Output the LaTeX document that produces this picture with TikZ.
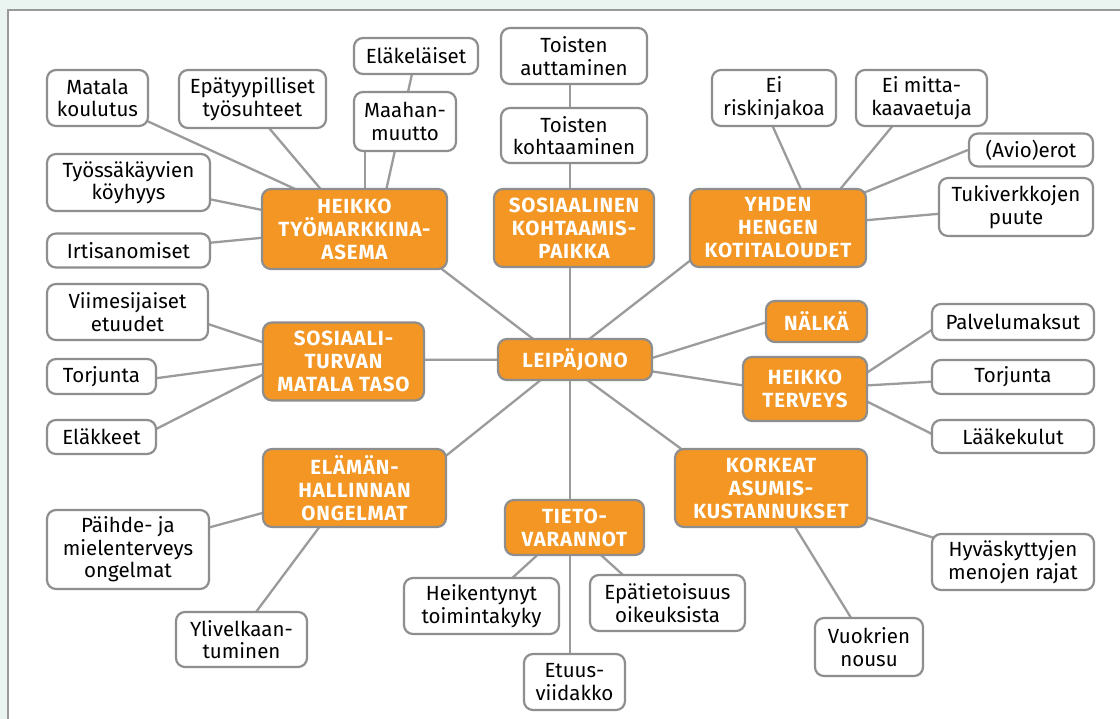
\documentclass[tikz,border=0pt]{standalone}
\usepackage{fontspec}
\setmainfont{Fira Sans}
\newfontfamily\hubfont[LetterSpace=4]{Fira Sans}
\pgfdeclarelayer{back}
\pgfdeclarelayer{bg}
\pgfsetlayers{back,bg,main}
\definecolor{mint}{RGB}{234,245,241}
\definecolor{orng}{RGB}{243,150,35}
\definecolor{bordergray}{RGB}{142,142,142}
\definecolor{linegray}{RGB}{155,155,155}
\tikzset{
  sub/.style={draw=bordergray, line width=2.2pt, fill=white, rounded corners=9pt, inner sep=0pt, align=center, text=black, font=\fontsize{20.5}{22.5}\selectfont},
  hub/.style={sub, fill=orng, text=white, font=\hubfont\bfseries\fontsize{20.5}{23}\selectfont},
  link/.style={draw=linegray, line width=2.3pt},
  panel/.style={draw=bordergray!90, line width=2pt, fill=white},
}
\begin{document}
\begin{tikzpicture}[x=1pt,y=-1pt]
\useasboundingbox (0,0) rectangle (1120,719);
\clip (0,0) rectangle (1120,719);
\begin{pgfonlayer}{back}
  \fill[mint] (0,0) rectangle (1120,719);
  \draw[panel] (8,10) rectangle (1140,740);
\end{pgfonlayer}

% hubs
\node[hub, minimum width=185pt, minimum height=80pt] (hta) at (354.5,229) {HEIKKO\\TYÖMARKKINA-\\ASEMA};
\node[hub, minimum width=160pt, minimum height=78pt] (sos) at (574,228) {SOSIAALINEN\\KOHTAAMIS-\\PAIKKA};
\node[hub, minimum width=176pt, minimum height=78pt] (yhden) at (778,228) {YHDEN\\HENGEN\\KOTITALOUDET};
\node[hub, minimum width=161pt, minimum height=78pt] (sost) at (343.5,361.5) {SOSIAALI-\\TURVAN\\MATALA TASO};
\node[hub, minimum width=154pt, minimum height=41pt] (leipa) at (575,359.5) {LEIPÄJONO};
\node[hub, minimum width=101pt, minimum height=41pt] (nalka) at (816.5,321.5) {NÄLKÄ};
\node[hub, minimum width=124pt, minimum height=64pt] (terveys) at (805,389) {HEIKKO\\TERVEYS};
\node[hub, minimum width=183pt, minimum height=78pt] (elaman) at (354.5,488) {ELÄMÄN-\\HALLINNAN\\ONGELMAT};
\node[hub, minimum width=192pt, minimum height=78pt] (korkeat) at (771,488) {KORKEAT\\ASUMIS-\\KUSTANNUKSET};
\node[hub, minimum width=139pt, minimum height=55pt] (tieto) at (574.5,527.5) {TIETO-\\VARANNOT};

% leaves
\node[sub, minimum width=101pt, minimum height=56pt] (matala) at (97.5,98) {Matala\\koulutus};
\node[sub, minimum width=147pt, minimum height=58pt] (epatyyp) at (252.5,99) {Epätyypilliset\\työsuhteet};
\node[sub, minimum width=124pt, minimum height=36pt] (elakel) at (416,56) {Eläkeläiset};
\node[sub, minimum width=102pt, minimum height=59pt] (maahan) at (405,121.5) {Maahan-\\muutto};
\node[sub, minimum width=163pt, minimum height=57pt] (tyossa) at (128.5,182.5) {Työssäkäyvien\\köyhyys};
\node[sub, minimum width=163pt, minimum height=34pt] (irtis) at (128.5,250.5) {Irtisanomiset};
\node[sub, minimum width=146pt, minimum height=56pt] (auttam) at (574,56) {Toisten\\auttaminen};
\node[sub, minimum width=146pt, minimum height=55pt] (kohtaam) at (574,135.5) {Toisten\\kohtaaminen};
\node[sub, minimum width=124pt, minimum height=56pt] (eirisk) at (774,98) {Ei\\riskinjakoa};
\node[sub, minimum width=131pt, minimum height=56pt] (eimitta) at (921.5,98) {Ei mitta-\\kaavaetuja};
\node[sub, minimum width=124pt, minimum height=33pt] (avio) at (1031,150) {(Avio)erot};
\node[sub, minimum width=154pt, minimum height=58pt] (tuki) at (1016,207) {Tukiverkkojen\\puute};
\node[sub, minimum width=161pt, minimum height=56pt] (viim) at (127.5,312) {Viimesijaiset\\etuudet};
\node[sub, minimum width=109pt, minimum height=35pt] (torjl) at (101.5,376.5) {Torjunta};
\node[sub, minimum width=109pt, minimum height=34pt] (elakk) at (101.5,437) {Eläkkeet};
\node[sub, minimum width=162pt, minimum height=79pt] (paihde) at (128,549.5) {Päihde- ja\\mielenterveys\\ongelmat};
\node[sub, minimum width=131pt, minimum height=55pt] (yliv) at (241.5,639.5) {Ylivelkaan-\\tuminen};
\node[sub, minimum width=155pt, minimum height=56pt] (heikent) at (481.5,606) {Heikentynyt\\toimintakyky};
\node[sub, minimum width=155pt, minimum height=56pt] (epatiet) at (667.5,603) {Epätietoisuus\\oikeuksista};
\node[sub, minimum width=101pt, minimum height=56pt] (etuus) at (574.5,682) {Etuus-\\viidakko};
\node[sub, minimum width=162pt, minimum height=36pt] (palv) at (1013,322) {Palvelumaksut};
\node[sub, minimum width=162pt, minimum height=34pt] (torjr) at (1013,377) {Torjunta};
\node[sub, minimum width=162pt, minimum height=33pt] (laake) at (1013,436.5) {Lääkekulut};
\node[sub, minimum width=162pt, minimum height=56pt] (hyv) at (1013,562) {Hyväskyttyjen\\menojen rajat};
\node[sub, minimum width=108pt, minimum height=58pt] (vuokr) at (869,647) {Vuokrien\\nousu};

\begin{pgfonlayer}{bg}
% HEIKKO TYÖMARKKINA-ASEMA
\draw[link] ([shift={(12.5,6)}]matala.center) -- ([shift={(-24.5,-24)}]hta.center);
\draw[link] ([shift={(-8,0)}]epatyyp.center) -- (hta.center);
\draw[link] (elakel.center) -- ([shift={(23,0)}]hta.center);
\draw[link] ([shift={(-40,0)}]maahan.center) -- ([shift={(10.5,-7.5)}]hta.center);
\draw[link] (tyossa.center) -- (hta.center);
\draw[link] (irtis.center) -- (hta.center);
\draw[link] ([shift={(35,0)}]hta.center) -- ([shift={(-15,0)}]leipa.center);
% SOSIAALINEN KOHTAAMISPAIKKA
\draw[link] ([shift={(-4,0)}]auttam.center) -- ([shift={(-4,0)}]kohtaam.center);
\draw[link] ([shift={(-4,0)}]kohtaam.center) -- ([shift={(-4,0)}]sos.center);
\draw[link] ([shift={(-4,0)}]sos.center) -- ([shift={(-5,0)}]leipa.center);
% YHDEN HENGEN KOTITALOUDET
\draw[link] ([shift={(-14,0)}]eirisk.center) -- ([shift={(40.4,0)}]yhden.center);
\draw[link] ([shift={(-5.8,0)}]eimitta.center) -- ([shift={(30,0)}]yhden.center);
\draw[link] (yhden.center) -- (avio.west);
\draw[link] (yhden.center) -- (tuki.center);
\draw[link] ([shift={(-46,0)}]yhden.center) -- ([shift={(-12,0)}]leipa.center);
% SOSIAALITURVAN MATALA TASO
\draw[link] ([shift={(0,-14.8)}]viim.center) -- ([shift={(0,7.7)}]sost.center);
\draw[link] ([shift={(0,9.1)}]torjl.center) -- ([shift={(0,-8.5)}]sost.center);
\draw[link] ([shift={(18.5,10.4)}]elakk.center) -- ([shift={(-43.5,-5.8)}]sost.center);
\draw[link] ([shift={(0,-1.5)}]sost.center) -- (leipa.center);
% NALKA, TERVEYS
\draw[link] ([shift={(65,2.25)}]leipa.center) -- ([shift={(-16.5,-9.75)}]nalka.center);
\draw[link] (leipa.center) -- ([shift={(0,6)}]terveys.center);
\draw[link] ([shift={(45,-5.1)}]terveys.center) -- ([shift={(-63,-4.2)}]palv.center);
\draw[link] (terveys.center) -- (torjr.center);
\draw[link] ([shift={(45,4)}]terveys.center) -- ([shift={(-63,6.5)}]laake.center);
% KORKEAT
\draw[link] ([shift={(0,11.5)}]leipa.center) -- ([shift={(0,26.7)}]korkeat.center);
\draw[link] (korkeat.center) -- (hyv.center);
\draw[link] (korkeat.center) -- (vuokr.center);
% ELAMAN
\draw[link] ([shift={(-15,5.1)}]leipa.center) -- ([shift={(65.5,-11.4)}]elaman.center);
\draw[link] (elaman.center) -- (paihde.center);
\draw[link] ([shift={(-6,0)}]elaman.center) -- ([shift={(-6,0)}]yliv.center);
% TIETO
\draw[link] ([shift={(-5,0)}]leipa.center) -- ([shift={(-4.5,0)}]tieto.center);
\draw[link] ([shift={(-4.5,0)}]tieto.center) -- ([shift={(-4.5,0)}]etuus.center);
\draw[link] ([shift={(-7,0)}]tieto.center) -- (heikent.center);
\draw[link] ([shift={(-4,0)}]tieto.center) -- ([shift={(-13.5,0)}]epatiet.center);
\end{pgfonlayer}
\end{tikzpicture}
\end{document}
